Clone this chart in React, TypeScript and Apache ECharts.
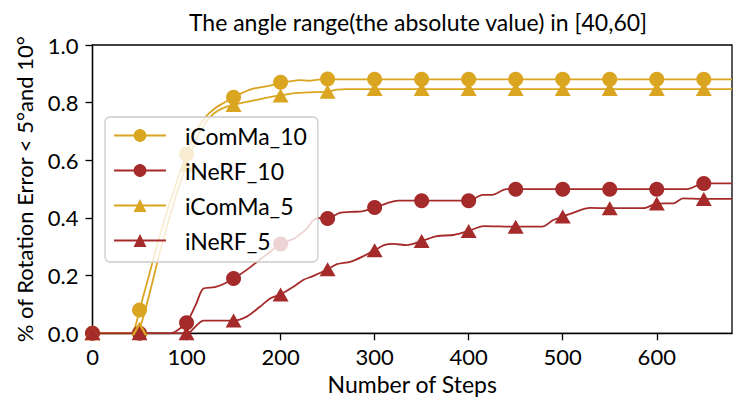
import React, { useEffect, useRef } from "react";
import * as echarts from "echarts";

const TITLE = "The angle range(the absolute value) in [40,60]";
const X_NAME = "Number of Steps";
const Y_NAME = "% of Rotation Error < 5°and 10°";
const X_TICKS = [0, 100, 200, 300, 400, 500, 600];
const MARKER_EVERY = 50;

const iComMa10: [number, number][] = [
  [0, 0], [40, 0], [45, 0.02], [50, 0.081], [60, 0.2], [70, 0.32], [80, 0.43], [90, 0.53],
  [100, 0.622], [110, 0.7], [120, 0.75], [130, 0.78], [140, 0.8], [150, 0.819], [160, 0.835],
  [170, 0.848], [180, 0.854], [190, 0.86], [200, 0.871], [210, 0.874], [220, 0.878], [230, 0.876],
  [240, 0.88], [250, 0.882], [260, 0.881], [300, 0.881], [350, 0.881], [400, 0.881], [450, 0.881],
  [500, 0.881], [550, 0.881], [600, 0.881], [650, 0.881], [680, 0.881],
];

const iNeRF10: [number, number][] = [
  [0, 0], [50, 0], [83, 0], [90, 0.01], [100, 0.037], [110, 0.1], [118, 0.155], [130, 0.16],
  [140, 0.172], [150, 0.19], [164, 0.22], [175, 0.248], [189, 0.283], [200, 0.31], [215, 0.33],
  [228, 0.364], [235, 0.393], [242, 0.4], [250, 0.398], [263, 0.418], [275, 0.421], [288, 0.424],
  [300, 0.436], [313, 0.451], [325, 0.46], [350, 0.46], [400, 0.46], [415, 0.48], [425, 0.48],
  [440, 0.5], [450, 0.5], [500, 0.5], [550, 0.5], [600, 0.5], [632, 0.5], [650, 0.52], [680, 0.52],
];

const iComMa5: [number, number][] = [
  [0, 0], [43, 0], [50, 0.017], [60, 0.13], [70, 0.26], [80, 0.38], [90, 0.49], [100, 0.585],
  [110, 0.67], [120, 0.73], [130, 0.765], [140, 0.783], [150, 0.792], [160, 0.8], [175, 0.81],
  [190, 0.82], [200, 0.825], [215, 0.833], [230, 0.836], [250, 0.838], [260, 0.845], [270, 0.847],
  [300, 0.847], [350, 0.847], [400, 0.847], [450, 0.847], [500, 0.847], [550, 0.847], [600, 0.847],
  [650, 0.847], [680, 0.847],
];

const iNeRF5: [number, number][] = [
  [0, 0], [50, 0], [100, 0], [103, 0.002], [110, 0.025], [118, 0.044], [150, 0.044], [164, 0.058],
  [178, 0.092], [189, 0.121], [200, 0.135], [214, 0.162], [224, 0.185], [235, 0.199], [250, 0.222],
  [260, 0.24], [274, 0.248], [286, 0.264], [300, 0.288], [310, 0.306], [320, 0.31], [334, 0.306],
  [350, 0.32], [366, 0.337], [384, 0.341], [400, 0.355], [416, 0.372], [450, 0.37], [478, 0.37],
  [490, 0.393], [500, 0.405], [511, 0.418], [529, 0.435], [550, 0.434], [586, 0.434], [600, 0.45],
  [618, 0.451], [628, 0.468], [650, 0.466], [680, 0.466],
];

const GOLD = "#DAA520";
const RED = "#A52A2A";
const FONT = "Lato";

function toItems(points: [number, number][]) {
  return points.map(([x, y]) =>
    x % MARKER_EVERY === 0 && x <= 650 ? { value: [x, y] } : { value: [x, y], symbol: "none" }
  );
}

function makeSeries(name: string, points: [number, number][], color: string, symbol: string, size: any) {
  return {
    name,
    type: "line",
    data: toItems(points),
    symbol,
    symbolSize: size,
    showAllSymbol: true,
    smooth: 0.3,
    lineStyle: { color, width: 1.8 },
    itemStyle: { color },
    clip: true,
  };
}

export default function App() {
  const ref = useRef<HTMLDivElement>(null);
  useEffect(() => {
    if (!ref.current) return;
    const chart = echarts.init(ref.current, null, { renderer: "svg" });
    chart.setOption({
      animation: false,
      backgroundColor: "#fff",
      textStyle: { fontFamily: FONT },
      title: {
        text: TITLE,
        left: 413,
        top: 5,
        textAlign: "center",
        textStyle: { fontFamily: FONT, fontSize: 23, fontWeight: "normal", color: "#000" },
      },
      grid: {
        left: 92.5,
        top: 45,
        right: 15,
        bottom: 80.7,
        show: true,
        borderColor: "#000",
        borderWidth: 1.3,
        containLabel: false,
      },
      legend: {
        orient: "vertical",
        left: 105,
        top: 117,
        padding: [6, 11, 9, 8],
        itemWidth: 52,
        itemHeight: 16,
        itemGap: 10,
        backgroundColor: "rgba(255,255,255,0.8)",
        borderColor: "#cccccc",
        borderWidth: 1.3,
        borderRadius: 5,
        textStyle: {
          fontFamily: FONT,
          fontSize: 23,
          color: "#000",
          lineHeight: 25,
          padding: [0, 0, 0, 14],
        },
        data: ["iComMa_10", "iNeRF_10", "iComMa_5", "iNeRF_5"],
      },
      xAxis: {
        type: "value",
        min: 0,
        max: 680,
        interval: 100,
        name: X_NAME,
        nameLocation: "middle",
        nameGap: 29,
        nameTextStyle: { fontFamily: FONT, fontSize: 23, color: "#000" },
        axisLine: { show: true, lineStyle: { color: "#000", width: 1.3 } },
        axisTick: { show: true, inside: false, length: 7, lineStyle: { color: "#000", width: 1.3 }, customValues: X_TICKS },
        axisLabel: { fontFamily: FONT, fontSize: 22, color: "#000", margin: 12, customValues: X_TICKS },
        splitLine: { show: false },
      },
      yAxis: {
        type: "value",
        min: 0,
        max: 1,
        interval: 0.2,
        name: Y_NAME,
        nameLocation: "middle",
        nameGap: 57,
        nameRotate: 90,
        nameTextStyle: { fontFamily: FONT, fontSize: 22, color: "#000" },
        axisLine: { show: true, lineStyle: { color: "#000", width: 1.3 } },
        axisTick: { show: true, inside: false, length: 7, lineStyle: { color: "#000", width: 1.3 } },
        axisLabel: {
          fontFamily: FONT,
          fontSize: 22,
          color: "#000",
          margin: 14,
          formatter: (v: number) => v.toFixed(1),
        },
        splitLine: { show: false },
      },
      series: [
        makeSeries("iComMa_10", iComMa10, GOLD, "circle", 15),
        makeSeries("iNeRF_10", iNeRF10, RED, "circle", 15),
        makeSeries("iComMa_5", iComMa5, GOLD, "triangle", [16, 14]),
        makeSeries("iNeRF_5", iNeRF5, RED, "triangle", [16, 14]),
      ],
    });
    return () => chart.dispose();
  }, []);
  return (
    <div
      ref={ref}
      style={{ position: "fixed", left: 0, top: 0, width: 747, height: 414 }}
    />
  );
}
